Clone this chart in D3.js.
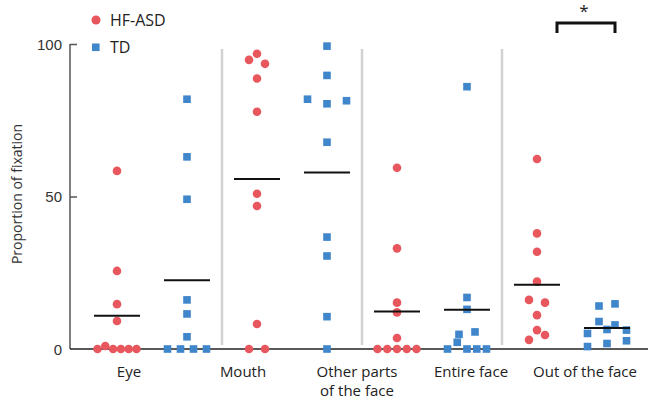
<!DOCTYPE html>
<html>
<head>
<meta charset="utf-8">
<script src="https://cdn.jsdelivr.net/npm/d3@7"></script>
<style>
  body { margin: 0; background: #fff; }
  svg { display: block; font-family: "Open Sans", sans-serif; }
</style>
</head>
<body>
<div id="chart"></div>
<script>
// axis labels (5, as printed under the axis)
const axisLabels = [["Eye"], ["Mouth"], ["Other parts", "of the face"], ["Entire face"], ["Out of the face"]];
const yTicks = [0, 50, 100];

// proportion of fixation per subject, 4 panels, listed left to right within a row
const hfAsd = [
  [0, 1.0, 0, 0, 0, 0, 9.2, 14.7, 25.6, 58.4],
  [0, 0, 8.2, 46.9, 50.9, 77.8, 88.7, 94.8, 93.5, 96.8],
  [0, 0, 0, 0, 0, 3.6, 12.0, 15.2, 33.0, 59.4],
  [3.0, 4.6, 6.2, 11.1, 16.1, 15.2, 22.1, 31.9, 37.9, 62.3]
];
const td = [
  [0, 0, 0, 0, 4.0, 11.5, 16.1, 49.1, 63.0, 81.9],
  [0, 10.6, 30.5, 36.7, 67.8, 81.9, 80.4, 81.4, 89.7, 99.3],
  [0, 2.2, 0, 0, 0, 4.8, 5.6, 13.0, 16.9, 86.0],
  [0.8, 1.8, 2.7, 5.1, 6.4, 6.2, 9.0, 7.9, 14.1, 14.8]
];

const W = 654, H = 401;
const x0 = 70, x1 = 648, yTop = 44, yBot = 349;
const red = "#e8575d", blue = "#3f86cb";

const svg = d3.select("#chart").append("svg")
  .attr("width", W).attr("height", H);

const y = d3.scaleLinear().domain([0, 100]).range([yBot, yTop]);

// 8 clusters: ASD / TD per panel
const clusters = [];
hfAsd.forEach((vals, i) => {
  clusters.push({ group: "asd", vals });
  clusters.push({ group: "td", vals: td[i] });
});
const xc = d3.scaleBand().domain(d3.range(clusters.length)).range([82, 642]);
const xl = d3.scaleBand().domain(d3.range(axisLabels.length)).range([72, 642]);

// separators
svg.selectAll("line.sep")
  .data(d3.range(1, hfAsd.length))
  .enter().append("line")
  .attr("x1", d => xc(d * 2)).attr("x2", d => xc(d * 2))
  .attr("y1", 49).attr("y2", 345)
  .attr("stroke", "#d2d2d2").attr("stroke-width", 2.5);

// y axis
const yAxis = d3.axisRight(y).tickValues(yTicks).tickSize(7).tickFormat(d3.format("d"));
const ga = svg.append("g").attr("transform", `translate(${x0},0)`).call(yAxis);
ga.select(".domain").remove();
ga.selectAll(".tick line").attr("stroke", "#555").attr("stroke-width", 1.5);
ga.selectAll(".tick text")
  .attr("x", -8).attr("text-anchor", "end").attr("dy", "0.35em")
  .attr("fill", "#333").style("font-size", "15px");
ga.selectAll(".tick").filter(d => d === 0).select("line").remove();
svg.append("line")
  .attr("x1", x0).attr("x2", x0).attr("y1", yTop).attr("y2", yBot)
  .attr("stroke", "#555").attr("stroke-width", 1.5);
svg.append("line")
  .attr("x1", x0).attr("x2", x1).attr("y1", yBot).attr("y2", yBot)
  .attr("stroke", "#222").attr("stroke-width", 1.6);

svg.append("text")
  .attr("transform", `translate(22,194) rotate(-90)`)
  .attr("text-anchor", "middle")
  .attr("fill", "#333").style("font-size", "14px")
  .text("Proportion of fixation");

// x labels
const lab = svg.selectAll("text.xl")
  .data(axisLabels).enter().append("text")
  .attr("text-anchor", "middle")
  .attr("fill", "#222").style("font-size", "15px")
  .attr("transform", (d, i) => `translate(${xl(i) + xl.bandwidth() / 2},377)`);
lab.selectAll("tspan").data(d => d).enter().append("tspan")
  .attr("x", 0).attr("dy", (d, i) => i ? 19 : 0).text(d => d);

// lay out points that share a row side by side
function layout(vals) {
  const order = d3.range(vals.length).sort((a, b) => vals[a] - vals[b] || a - b);
  const rows = [];
  let cur = null;
  order.forEach(i => {
    if (cur && y(vals[cur.start]) - y(vals[i]) < 8) cur.idx.push(i);
    else { cur = { start: i, idx: [i] }; rows.push(cur); }
  });
  const off = new Array(vals.length).fill(0);
  rows.forEach(r => {
    r.idx.sort((a, b) => a - b);
    const n = r.idx.length;
    const s = n === 2 ? 16 : 39 / Math.max(n - 1, 1);
    r.idx.forEach((k, j) => { off[k] = (j - (n - 1) / 2) * s; });
  });
  return vals.map((v, i) => ({ v, dx: off[i] }));
}

clusters.forEach((c, ci) => {
  const cx = xc(ci) + xc.bandwidth() / 2;
  const pts = layout(c.vals);
  const g = svg.append("g");
  if (c.group === "asd") {
    g.selectAll("circle").data(pts).enter().append("circle")
      .attr("cx", d => cx + d.dx).attr("cy", d => y(d.v))
      .attr("r", 4.3).attr("fill", red);
  } else {
    g.selectAll("rect").data(pts).enter().append("rect")
      .attr("x", d => cx + d.dx - 3.8).attr("y", d => y(d.v) - 3.8)
      .attr("width", 7.6).attr("height", 7.6).attr("fill", blue);
  }
  const m = d3.mean(c.vals);
  svg.append("line")
    .attr("x1", cx - 23).attr("x2", cx + 23)
    .attr("y1", y(m)).attr("y2", y(m))
    .attr("stroke", "#111").attr("stroke-width", 2);
});

// significance bracket on last panel
const bl = xc(6) + xc.bandwidth() / 2 + 20, br = xc(7) + xc.bandwidth() / 2 + 8;
svg.append("path")
  .attr("d", `M${bl},33V23H${br}V33`)
  .attr("fill", "none").attr("stroke", "#111").attr("stroke-width", 3);
svg.append("text")
  .attr("x", (bl + br) / 2 - 2).attr("y", 17)
  .attr("text-anchor", "middle").attr("fill", "#222").style("font-size", "17px")
  .text("*");

// legend
const legend = svg.append("g");
legend.append("circle").attr("cx", 96).attr("cy", 20).attr("r", 4.5).attr("fill", red);
legend.append("rect").attr("x", 92).attr("y", 43.5).attr("width", 7.6).attr("height", 7.6).attr("fill", blue);
legend.append("text").attr("x", 110).attr("y", 20).attr("dy", "0.35em")
  .attr("fill", "#222").style("font-size", "16px").text("HF-ASD");
legend.append("text").attr("x", 110).attr("y", 47).attr("dy", "0.35em")
  .attr("fill", "#222").style("font-size", "16px").text("TD");
</script>
</body>
</html>
